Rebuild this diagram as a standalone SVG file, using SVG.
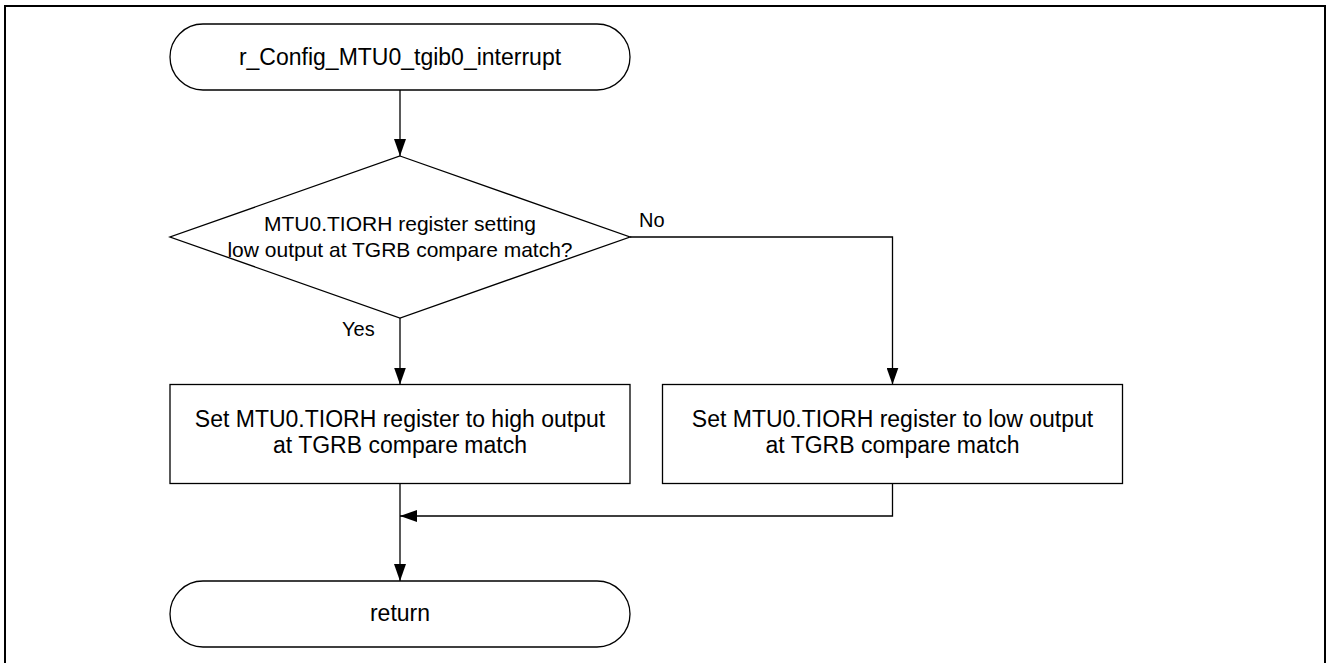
<svg xmlns="http://www.w3.org/2000/svg" width="1328" height="663" viewBox="0 0 1328 663">
<style>
.shape{fill:#fff;stroke:#000;stroke-width:1.3}
.t{font-family:"Liberation Sans",Arial,sans-serif;font-size:23px;fill:#000;text-anchor:middle}
.d{font-size:21px}
.lbl{font-family:"Liberation Sans",Arial,sans-serif;font-size:20px;fill:#000}
.c{fill:none;stroke:#000;stroke-width:1.3}
</style>
<defs>
<marker id="ah" markerWidth="17" markerHeight="12" refX="17" refY="6" orient="auto" markerUnits="userSpaceOnUse">
<path d="M0,0 L17,6 L0,12 Z" fill="#000"/>
</marker>
</defs>
<rect width="1328" height="663" fill="#fff"/>
<path d="M5,670 L5,6 L1325,6 L1325,670" fill="none" stroke="#000" stroke-width="2"/>
<g id="start">
<rect class="shape" x="170" y="24" width="460" height="66" rx="33" ry="33"/>
<text class="t" x="400" y="65">r_Config_MTU0_tgib0_interrupt</text>
</g>
<g id="decision">
<polygon class="shape" points="400,156 630,237 400,318 170,237"/>
<text class="t d" x="400" y="230.5">MTU0.TIORH register setting</text>
<text class="t d" x="400" y="257.3">low output at TGRB compare match?</text>
</g>
<g id="set-high">
<rect class="shape" x="170" y="384.5" width="460" height="99"/>
<text class="t" x="400" y="426.7">Set MTU0.TIORH register to high output</text>
<text class="t" x="400" y="453.3">at TGRB compare match</text>
</g>
<g id="set-low">
<rect class="shape" x="662.5" y="384.5" width="460" height="99"/>
<text class="t" x="892.5" y="426.7">Set MTU0.TIORH register to low output</text>
<text class="t" x="892.5" y="453.3">at TGRB compare match</text>
</g>
<g id="end">
<rect class="shape" x="170" y="581" width="460" height="66" rx="33" ry="33"/>
<text class="t" x="400" y="620.7">return</text>
</g>
<g id="connectors">
<line class="c" x1="400" y1="90" x2="400" y2="156" marker-end="url(#ah)"/>
<line class="c" x1="400" y1="318" x2="400" y2="384.5" marker-end="url(#ah)"/>
<polyline class="c" points="630,237 892.5,237 892.5,384.5" marker-end="url(#ah)"/>
<line class="c" x1="400" y1="483.5" x2="400" y2="581" marker-end="url(#ah)"/>
<polyline class="c" points="892.5,483.5 892.5,516 400,516" marker-end="url(#ah)"/>
<text class="lbl" x="342" y="336">Yes</text>
<text class="lbl" x="639" y="226.7">No</text>
</g>
</svg>
